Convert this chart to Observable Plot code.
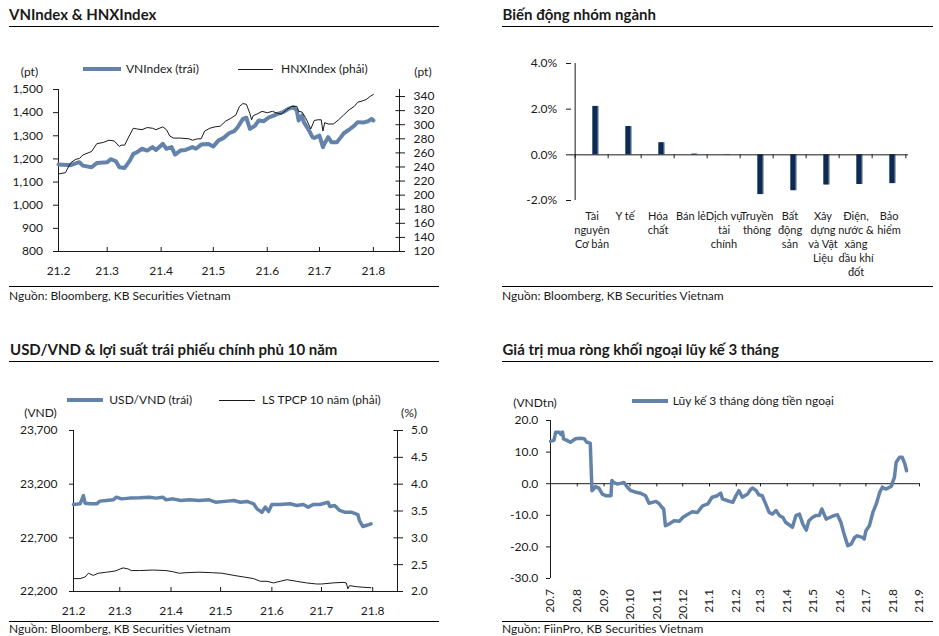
<!DOCTYPE html>
<html><head><meta charset="utf-8">
<script src="https://cdn.jsdelivr.net/npm/d3@7"></script>
<script src="https://cdn.jsdelivr.net/npm/@observablehq/plot@0.6"></script>
<style>
body{margin:0;background:#fff;}
#root{position:relative;width:939px;height:636px;overflow:hidden;font-family:Lato,sans-serif;background:#fff;}
#root svg{position:absolute;}
</style></head><body><div id="root"></div>
<script>
// ---------- data ----------
const monthTicksA = ["21.2","21.3","21.4","21.5","21.6","21.7","21.8"];
const monthTicksB = ["20.7","20.8","20.9","20.10","20.11","20.12","21.1","21.2","21.3","21.4","21.5","21.6","21.7","21.8","21.9"];
const vnTicks = [800,900,1000,1100,1200,1300,1400,1500];
const hnxTicks = [120,140,160,180,200,220,240,260,280,300,320,340];
const usdTicks = [22200,22700,23200,23700];
const yieldTicks = [2.0,2.5,3.0,3.5,4.0,4.5,5.0];
const flowTicks = [-30,-20,-10,0,10,20];
const sectorTicks = [-2,0,2,4];

const vnIndex = [["2021-02-01",1176],["2021-02-08",1173],["2021-02-10",1179],["2021-02-13",1186],["2021-02-15",1171],["2021-02-20",1164],["2021-02-23",1182],["2021-03-01",1186],["2021-03-03",1199],["2021-03-06",1190],["2021-03-08",1164],["2021-03-11",1161],["2021-03-14",1193],["2021-03-16",1222],["2021-03-18",1228],["2021-03-21",1244],["2021-03-24",1236],["2021-03-27",1251],["2021-03-29",1239],["2021-04-02",1265],["2021-04-04",1244],["2021-04-07",1251],["2021-04-09",1219],["2021-04-12",1236],["2021-04-15",1239],["2021-04-19",1251],["2021-04-21",1244],["2021-04-24",1262],["2021-04-28",1265],["2021-05-01",1254],["2021-05-04",1280],["2021-05-07",1291],["2021-05-10",1311],["2021-05-13",1320],["2021-05-15",1337],["2021-05-18",1373],["2021-05-20",1378],["2021-05-22",1330],["2021-05-25",1344],["2021-05-27",1366],["2021-05-30",1363],["2021-06-02",1380],["2021-06-05",1388],["2021-06-07",1395],["2021-06-10",1402],["2021-06-13",1416],["2021-06-16",1424],["2021-06-18",1409],["2021-06-19",1366],["2021-06-21",1388],["2021-06-22",1359],["2021-06-25",1323],["2021-06-27",1294],["2021-06-28",1291],["2021-07-01",1301],["2021-07-03",1251],["2021-07-04",1268],["2021-07-06",1294],["2021-07-08",1272],["2021-07-11",1272],["2021-07-13",1291],["2021-07-15",1311],["2021-07-18",1326],["2021-07-21",1344],["2021-07-23",1359],["2021-07-26",1357],["2021-07-29",1363],["2021-07-31",1373],["2021-08-01",1366]];

const hnxIndex = [["2021-02-01",230],["2021-02-05",232],["2021-02-08",246],["2021-02-11",251],["2021-02-13",252],["2021-02-15",257],["2021-02-18",260],["2021-02-20",262],["2021-02-23",273],["2021-02-27",275],["2021-03-02",278],["2021-03-05",277],["2021-03-08",269],["2021-03-09",271],["2021-03-11",271],["2021-03-13",281],["2021-03-16",295],["2021-03-18",294],["2021-03-21",293],["2021-03-24",296],["2021-03-27",295],["2021-03-29",293],["2021-04-02",297],["2021-04-04",293],["2021-04-06",284],["2021-04-08",281],["2021-04-12",281],["2021-04-17",280],["2021-04-19",278],["2021-04-22",280],["2021-04-24",280],["2021-04-26",291],["2021-04-29",295],["2021-05-02",297],["2021-05-05",298],["2021-05-08",305],["2021-05-11",309],["2021-05-14",314],["2021-05-16",326],["2021-05-18",330],["2021-05-20",329],["2021-05-22",316],["2021-05-23",307],["2021-05-24",313],["2021-05-26",315],["2021-05-29",319],["2021-06-01",317],["2021-06-04",319],["2021-06-06",317],["2021-06-09",315],["2021-06-12",321],["2021-06-15",326],["2021-06-18",326],["2021-06-19",319],["2021-06-21",318],["2021-06-23",310],["2021-06-26",294],["2021-06-28",306],["2021-06-30",307],["2021-07-02",307],["2021-07-03",291],["2021-07-04",303],["2021-07-06",301],["2021-07-09",301],["2021-07-12",307],["2021-07-15",314],["2021-07-18",321],["2021-07-21",326],["2021-07-23",332],["2021-07-26",334],["2021-07-28",336],["2021-07-30",340],["2021-08-01",343]];

const sectors = ["Tài\nnguyên\nCơ bản","Y tế","Hóa\nchất","Bán lẻ","Dịch vụ\ntài\nchính","Truyền\nthông","Bất\nđộng\nsản","Xây\ndựng\nvà Vật\nLiệu","Điện,\nnước &\nxăng\ndầu khí\nđốt","Bảo\nhiểm"];
const sectorChange = [2.12,1.24,0.53,0.03,-0.01,-1.74,-1.57,-1.32,-1.30,-1.26];

const usdVnd = [["2021-02-01",23010],["2021-02-05",23017],["2021-02-07",23094],["2021-02-08",23023],["2021-02-11",23017],["2021-02-15",23017],["2021-02-17",23042],["2021-02-21",23048],["2021-02-25",23054],["2021-02-27",23079],["2021-03-02",23063],["2021-03-07",23070],["2021-03-13",23073],["2021-03-19",23079],["2021-03-23",23070],["2021-03-27",23079],["2021-03-29",23054],["2021-04-02",23063],["2021-04-07",23048],["2021-04-12",23054],["2021-04-18",23048],["2021-04-24",23054],["2021-04-28",23032],["2021-05-05",23042],["2021-05-09",23048],["2021-05-13",23032],["2021-05-17",23039],["2021-05-21",23017],["2021-05-23",22970],["2021-05-26",22939],["2021-05-28",22986],["2021-05-30",22945],["2021-06-01",23011],["2021-06-06",23011],["2021-06-12",23017],["2021-06-16",23001],["2021-06-20",23011],["2021-06-23",22986],["2021-06-26",23011],["2021-06-30",23011],["2021-07-05",23032],["2021-07-06",22992],["2021-07-09",23001],["2021-07-12",22955],["2021-07-15",22939],["2021-07-19",22939],["2021-07-23",22917],["2021-07-24",22861],["2021-07-26",22806],["2021-07-28",22815],["2021-07-31",22830]];

const bondYield = [["2021-02-01",2.24],["2021-02-05",2.24],["2021-02-08",2.27],["2021-02-10",2.34],["2021-02-13",2.30],["2021-02-16",2.34],["2021-02-21",2.36],["2021-02-26",2.38],["2021-03-03",2.44],["2021-03-06",2.42],["2021-03-08",2.39],["2021-03-13",2.39],["2021-03-21",2.40],["2021-03-29",2.39],["2021-04-02",2.37],["2021-04-06",2.34],["2021-04-10",2.35],["2021-04-18",2.36],["2021-04-26",2.35],["2021-05-02",2.34],["2021-05-09",2.30],["2021-05-15",2.27],["2021-05-21",2.24],["2021-05-25",2.19],["2021-05-29",2.19],["2021-06-02",2.16],["2021-06-06",2.19],["2021-06-10",2.22],["2021-06-16",2.19],["2021-06-22",2.16],["2021-06-28",2.14],["2021-07-01",2.14],["2021-07-08",2.16],["2021-07-14",2.17],["2021-07-16",2.16],["2021-07-17",2.05],["2021-07-18",2.11],["2021-07-22",2.09],["2021-07-26",2.08],["2021-07-31",2.07]];

const foreignFlow = [["2020-07-01",13.4],["2020-07-05",13.7],["2020-07-07",16.3],["2020-07-11",16.3],["2020-07-13",15.6],["2020-07-15",16.3],["2020-07-16",14.2],["2020-07-20",13.7],["2020-07-24",13.1],["2020-07-30",14.2],["2020-08-05",14.4],["2020-08-09",14.2],["2020-08-12",13.1],["2020-08-16",12.8],["2020-08-18",-2.2],["2020-08-20",-1.7],["2020-08-22",-0.9],["2020-08-26",-1.4],["2020-08-30",-3.3],["2020-09-03",-3.8],["2020-09-09",-3.8],["2020-09-10",1.0],["2020-09-12",0.4],["2020-09-16",-0.1],["2020-09-20",0.1],["2020-09-24",0.4],["2020-09-28",-1.1],["2020-10-02",-2.2],["2020-10-08",-2.7],["2020-10-13",-3.0],["2020-10-19",-3.8],["2020-10-23",-6.2],["2020-10-27",-5.9],["2020-10-31",-5.6],["2020-11-04",-6.4],["2020-11-07",-7.5],["2020-11-09",-8.0],["2020-11-11",-13.3],["2020-11-15",-12.8],["2020-11-21",-11.7],["2020-11-27",-11.9],["2020-12-01",-10.7],["2020-12-06",-9.8],["2020-12-12",-8.9],["2020-12-18",-9.1],["2020-12-24",-7.0],["2020-12-30",-6.4],["2021-01-04",-4.3],["2021-01-10",-3.8],["2021-01-14",-3.0],["2021-01-16",-4.8],["2021-01-22",-5.4],["2021-01-28",-5.9],["2021-01-31",-4.1],["2021-02-04",-2.2],["2021-02-08",-4.3],["2021-02-14",-3.3],["2021-02-18",-1.7],["2021-02-20",-1.4],["2021-02-24",-2.2],["2021-02-27",-3.5],["2021-03-03",-3.8],["2021-03-07",-6.4],["2021-03-11",-9.1],["2021-03-15",-9.6],["2021-03-19",-8.5],["2021-03-23",-10.1],["2021-03-27",-10.7],["2021-03-30",-12.2],["2021-04-03",-13.0],["2021-04-07",-13.8],["2021-04-11",-10.1],["2021-04-15",-9.6],["2021-04-19",-12.8],["2021-04-23",-14.7],["2021-04-26",-11.7],["2021-04-30",-10.7],["2021-05-04",-10.1],["2021-05-08",-10.1],["2021-05-11",-8.0],["2021-05-16",-11.2],["2021-05-20",-10.7],["2021-05-25",-10.1],["2021-05-29",-9.8],["2021-06-02",-12.2],["2021-06-06",-16.2],["2021-06-10",-19.6],["2021-06-14",-19.1],["2021-06-18",-17.0],["2021-06-21",-16.5],["2021-06-27",-17.0],["2021-06-29",-17.5],["2021-07-01",-14.9],["2021-07-05",-13.3],["2021-07-09",-9.1],["2021-07-13",-6.4],["2021-07-17",-2.7],["2021-07-20",-1.1],["2021-07-24",-1.7],["2021-07-30",-0.9],["2021-08-03",2.0],["2021-08-05",6.8],["2021-08-09",8.4],["2021-08-12",8.4],["2021-08-15",6.3],["2021-08-17",4.1]];

// ---------- helpers ----------
const BLUE = "#6383ab", NAVY = "#0b2b55", INK = "#1a1a1a";
const root = document.getElementById("root");
const parseDate = s => new Date(s + "T00:00:00Z");
const monthTick = l => { const [y, m] = l.split(".").map(Number); return new Date(Date.UTC(2000 + y, m - 1, 1)); };
const fmtMonth = d => `${d.getUTCFullYear() % 100}.${d.getUTCMonth() + 1}`;
const rows = arr => arr.map(([d, v]) => ({date: parseDate(d), value: v}));
const style = {fontFamily: "Lato, sans-serif", fontSize: "12px", color: INK, background: "transparent", overflow: "visible"};

function place(svg, left, top) { svg.style.left = left + "px"; svg.style.top = top + "px"; root.appendChild(svg); }
function label(str, x, cy, {size = 12, weight = 400, align = "left"} = {}) {
  const el = document.createElement("div");
  el.textContent = str;
  Object.assign(el.style, {position: "absolute", left: x + "px", top: (cy - size * 0.6) + "px", fontSize: size + "px",
    lineHeight: (size * 1.2) + "px", fontWeight: weight, whiteSpace: "nowrap", color: INK});
  if (align === "center") el.style.transform = "translateX(-50%)";
  if (align === "right") el.style.transform = "translateX(-100%)";
  root.appendChild(el);
}
function box(x, y, w, h, color) {
  const el = document.createElement("div");
  Object.assign(el.style, {position: "absolute", left: x + "px", top: y + "px", width: w + "px", height: h + "px", background: color});
  root.appendChild(el);
}

// ---------- panel 1: VNIndex & HNXIndex ----------
const domA = [parseDate("2021-02-01"), parseDate("2021-08-16")];
const frame1 = {width: 470, height: 205, marginLeft: 58, marginRight: 71, marginTop: 9, marginBottom: 34};
place(Plot.plot({...frame1, style,
  x: {type: "utc", domain: domA, label: null},
  y: {domain: [800, 1500], label: null},
  marks: [
    Plot.ruleX([domA[0]], {stroke: INK}),
    Plot.ruleY([800], {stroke: INK}),
    Plot.axisY({ticks: vnTicks, tickFormat: d3.format(","), tickSize: 5, tickPadding: 10.5, label: null}),
    Plot.axisX({ticks: monthTicksA.map(monthTick), tickFormat: fmtMonth, tickSize: -4, tickPadding: 18.7, label: null}),
    Plot.line(rows(vnIndex), {x: "date", y: "value", stroke: BLUE, strokeWidth: 4, strokeLinejoin: "round"})
  ]}), 0, 80);
place(Plot.plot({...frame1, style,
  x: {type: "utc", domain: domA, label: null, axis: null},
  y: {domain: [120, 350], label: null},
  marks: [
    Plot.ruleX([domA[1]], {stroke: INK}),
    Plot.axisY({anchor: "right", ticks: hnxTicks, tickSize: 5, tickPadding: 9, label: null}),
    Plot.axisY({anchor: "right", ticks: hnxTicks, tickSize: -4.5, tickFormat: () => "", label: null}),
    Plot.line(rows(hnxIndex), {x: "date", y: "value", stroke: INK, strokeWidth: 1})
  ]}), 0, 80);

label("VNIndex & HNXIndex", 9, 14, {size: 15, weight: 700});
box(9, 25.5, 430, 1.3, "#000");
label("(pt)", 29.5, 72, {align: "center"});
label("(pt)", 423, 72, {align: "center"});
box(83, 67, 38, 4, BLUE);
label("VNIndex (trái)", 126, 69);
box(238, 68.5, 35, 1, INK);
label("HNXIndex (phải)", 281, 69);
box(9, 285.5, 430, 1.3, "#000");
label("Nguồn: Bloomberg, KB Securities Vietnam", 9, 296);

// ---------- panel 2: Biến động nhóm ngành ----------
const w2 = 444, ml2 = 76, mr2 = 31;
const bw = (w2 - ml2 - mr2) / sectors.length;
const sectorData = sectors.map((s, i) => ({sector: s, value: sectorChange[i]}));
place(Plot.plot({width: w2, height: 240, marginLeft: ml2, marginRight: mr2, marginTop: 13, marginBottom: 90, style,
  x: {type: "band", domain: sectors, padding: 0, label: null},
  y: {domain: [-2, 4], label: null},
  marks: [
    Plot.barY(sectorData, {x: "sector", y: "value", fill: "#a3adba", insetLeft: 18.3, insetRight: 9.0}),
    Plot.barY(sectorData, {x: "sector", y: "value", fill: NAVY, insetLeft: 17.3, insetRight: 10.4}),
    Plot.ruleX([sectors[0]], {dx: -bw / 2, stroke: INK}),
    Plot.ruleY([0], {stroke: INK}),
    Plot.ruleX(sectors, {y1: 0, y2: -0.17, dx: -bw / 2, stroke: INK}),
    Plot.ruleX([sectors[sectors.length - 1]], {y1: 0, y2: -0.17, dx: bw / 2, stroke: INK}),
    Plot.axisY({ticks: sectorTicks, tickFormat: d => d.toFixed(1) + "%", tickSize: 5, tickPadding: 9.3, label: null}),
    Plot.axisX({tickSize: 0, tickPadding: 10, fontSize: 11, lineHeight: 1.27, label: null})
  ]}), 495, 50);

label("Biến động nhóm ngành", 502.5, 14, {size: 15, weight: 700});
box(502, 25.5, 431, 1.3, "#000");
box(502, 285.5, 431, 1.3, "#000");
label("Nguồn: Bloomberg, KB Securities Vietnam", 502, 296);

// ---------- panel 3: USD/VND & bond yield ----------
const frame3 = {width: 470, height: 200, marginLeft: 73, marginRight: 73, marginTop: 10, marginBottom: 29};
place(Plot.plot({...frame3, style,
  x: {type: "utc", domain: domA, label: null},
  y: {domain: [22200, 23700], label: null},
  marks: [
    Plot.ruleX([domA[0]], {stroke: INK}),
    Plot.ruleY([22200], {stroke: INK}),
    Plot.axisY({ticks: usdTicks, tickFormat: d3.format(","), tickSize: 4, tickPadding: 12, label: null}),
    Plot.axisX({ticks: monthTicksA.map(monthTick), tickFormat: fmtMonth, tickSize: -4, tickPadding: 19.4, label: null}),
    Plot.line(rows(usdVnd), {x: "date", y: "value", stroke: BLUE, strokeWidth: 3.5, strokeLinejoin: "round"})
  ]}), 0, 420);
place(Plot.plot({...frame3, style,
  x: {type: "utc", domain: domA, label: null, axis: null},
  y: {domain: [2, 5], label: null},
  marks: [
    Plot.ruleX([domA[1]], {stroke: INK}),
    Plot.axisY({anchor: "right", ticks: yieldTicks, tickFormat: d => d.toFixed(1), tickSize: 5, tickPadding: 8.5, label: null}),
    Plot.axisY({anchor: "right", ticks: yieldTicks, tickSize: -4.5, tickFormat: () => "", label: null}),
    Plot.line(rows(bondYield), {x: "date", y: "value", stroke: INK, strokeWidth: 1})
  ]}), 0, 420);

label("USD/VND & lợi suất trái phiếu chính phủ 10 năm", 10, 348.5, {size: 15, weight: 700});
box(9, 361, 430, 1.3, "#000");
box(67, 398, 36, 4, BLUE);
label("USD/VND (trái)", 109.3, 400);
box(219, 399.5, 36, 1, INK);
label("LS TPCP 10 năm (phải)", 262, 400);
label("(VND)", 40.5, 413.3, {align: "center"});
label("(%)", 409, 413.3, {align: "center"});
box(9, 620.5, 430, 1.3, "#000");
label("Nguồn: Bloomberg, KB Securities Vietnam", 9, 629);

// ---------- panel 4: foreign net buying ----------
const domB = [parseDate("2020-07-01"), parseDate("2021-09-01")];
const ticksB = monthTicksB.map(monthTick);
place(Plot.plot({width: 444, height: 210, marginLeft: 55, marginRight: 20, marginTop: 10, marginBottom: 42, style,
  x: {type: "utc", domain: domB, label: null},
  y: {domain: [-30, 20], label: null},
  marks: [
    Plot.ruleX([domB[0]], {stroke: INK}),
    Plot.ruleY([0], {stroke: INK}),
    Plot.ruleX(ticksB, {y1: 0, y2: -1, stroke: INK}),
    Plot.axisY({ticks: flowTicks, tickFormat: d => d.toFixed(1), tickSize: 4, tickPadding: 8.3, label: null}),
    Plot.axisX({ticks: ticksB, tickFormat: fmtMonth, tickRotate: -90, tickSize: 0, tickPadding: 10.5, label: null}),
    Plot.line(rows(foreignFlow), {x: "date", y: "value", stroke: BLUE, strokeWidth: 3.5, strokeLinejoin: "round"})
  ]}), 495, 410);

label("Giá trị mua ròng khối ngoại lũy kế 3 tháng", 502.5, 349, {size: 15, weight: 700});
box(502, 361, 431, 1.3, "#000");
box(631.7, 398.7, 36.6, 4, BLUE);
label("Lũy kế 3 tháng dòng tiền ngoại", 672.7, 400.7);
label("(VNDtn)", 535, 403.3, {align: "center"});
box(502, 620.5, 431, 1.3, "#000");
label("Nguồn: FiinPro, KB Securities Vietnam", 502, 629);
</script></body></html>
